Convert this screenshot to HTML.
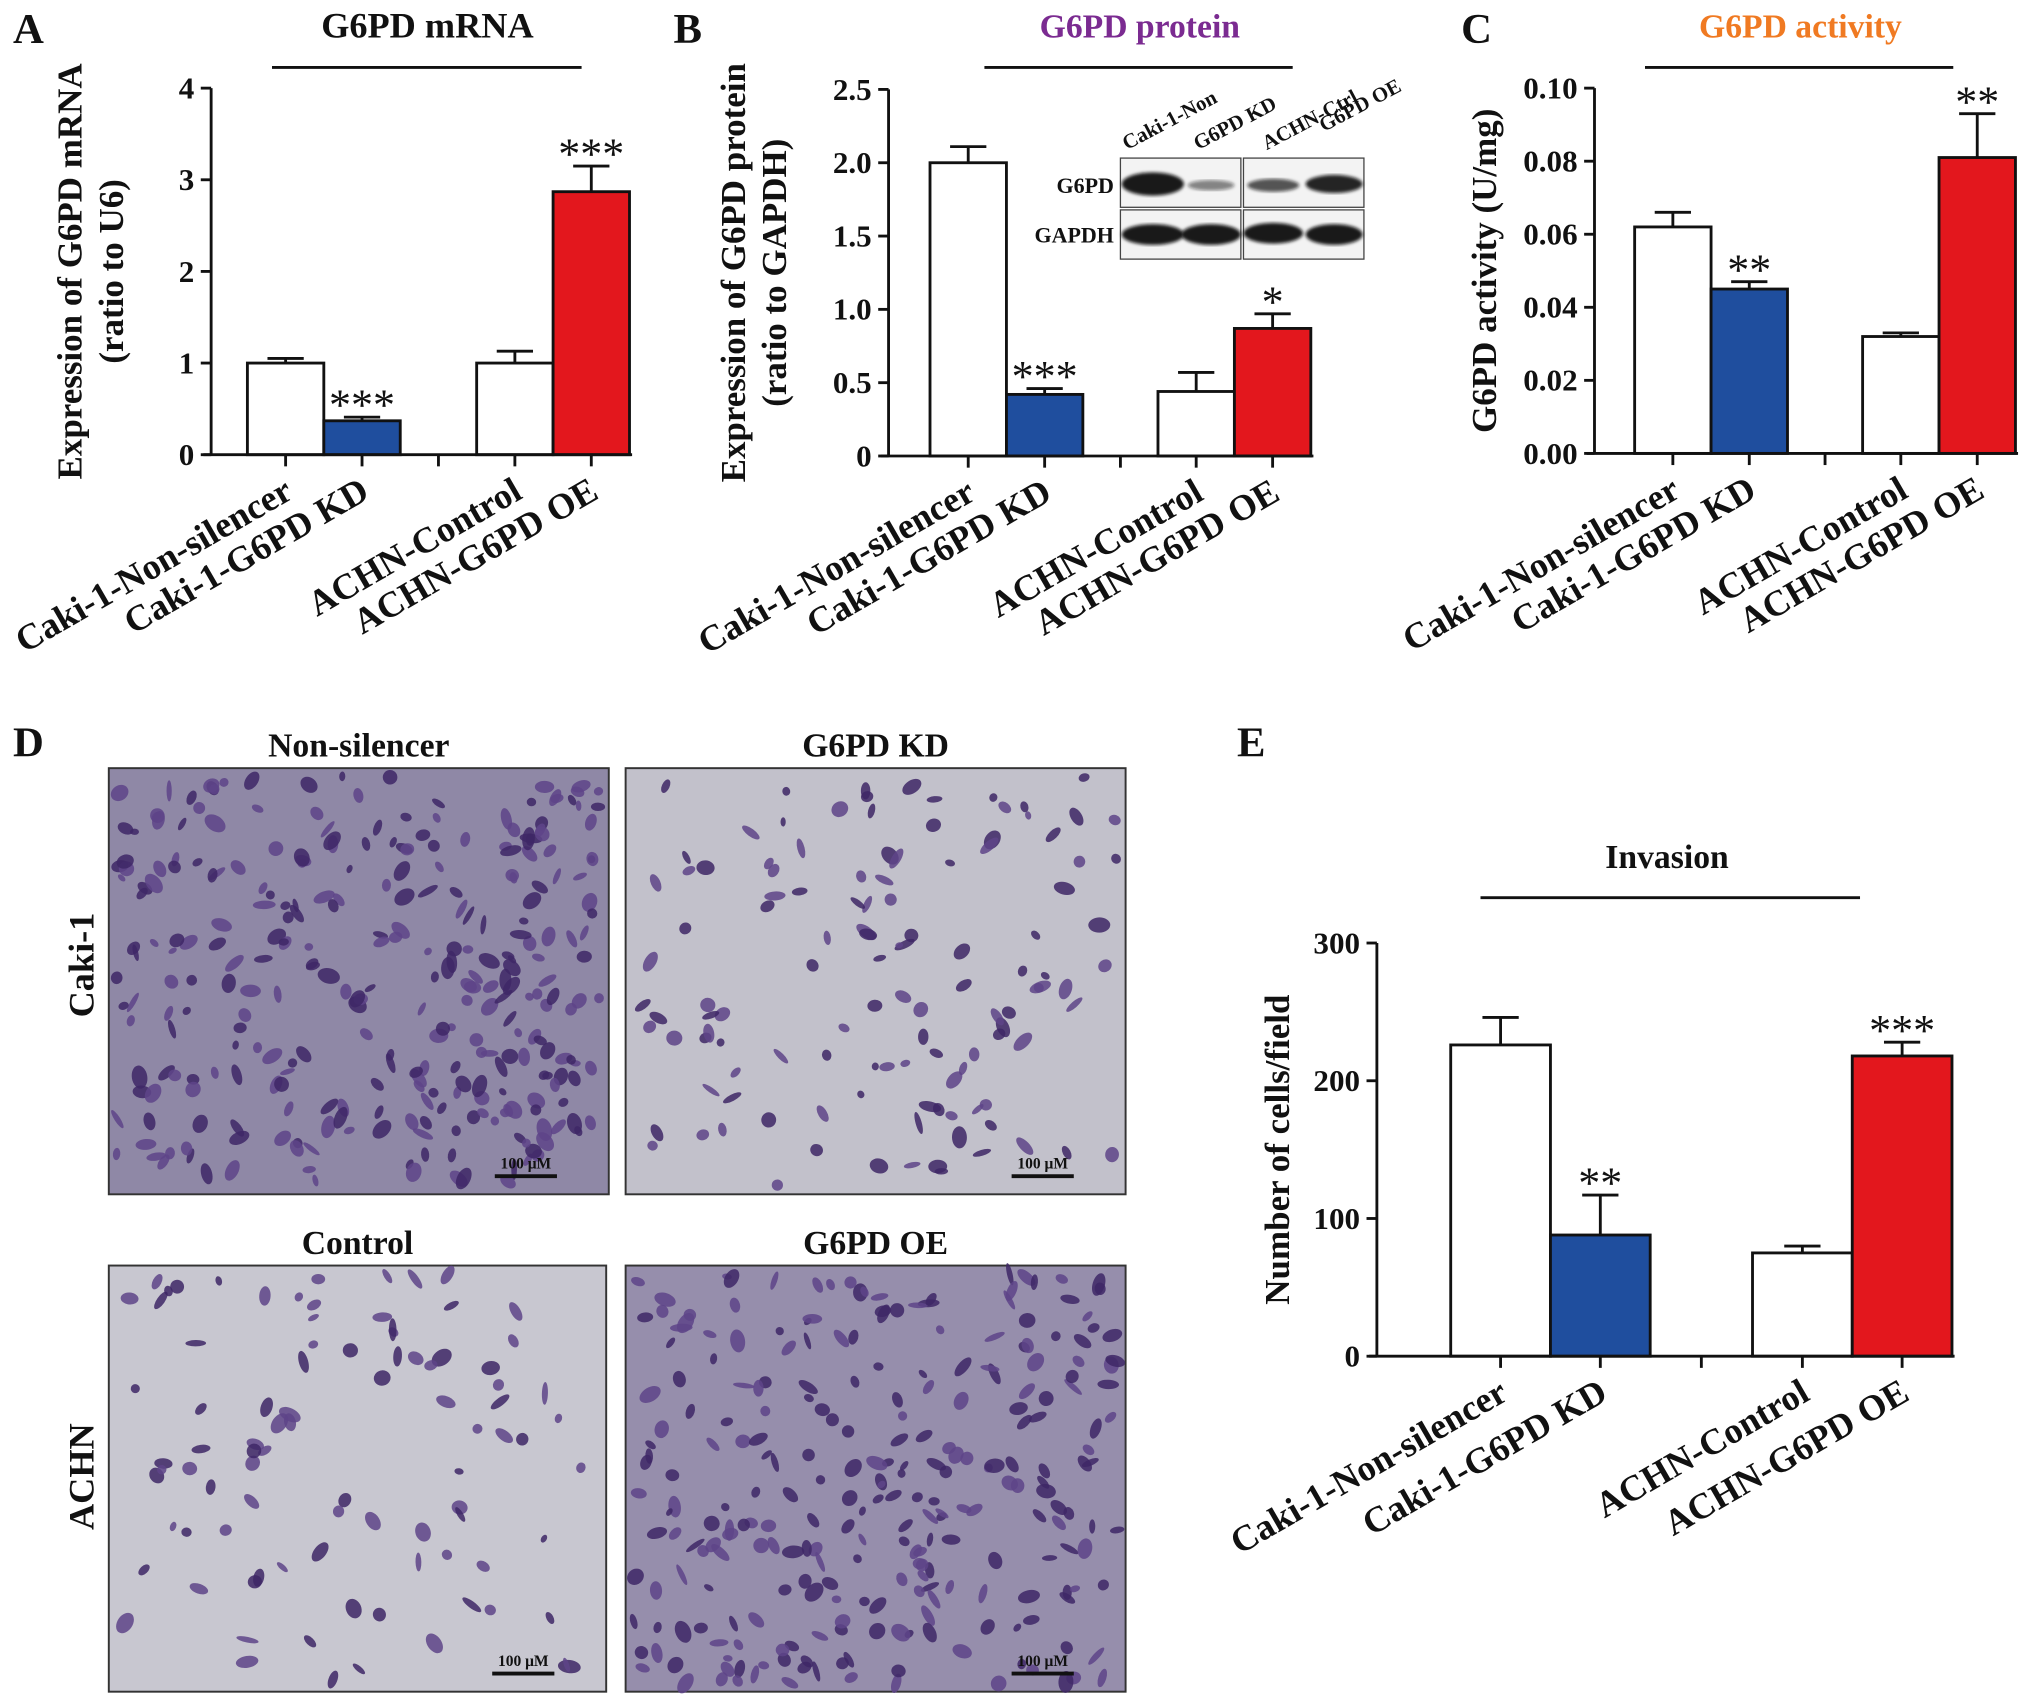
<!DOCTYPE html>
<html><head><meta charset="utf-8"><style>
html,body{margin:0;padding:0;background:#fff}
svg{display:block}
text{font-family:"Liberation Serif",serif;font-weight:bold;fill:#111}
</style></head><body>
<svg id="fig" width="2031" height="1706" viewBox="0 0 1568 1317" xmlns="http://www.w3.org/2000/svg">
<defs>
<filter id="blur1"><feGaussianBlur stdDeviation="1.2"/></filter>
</defs>
<g id="root"></g>
</svg>
<script>
const catsA=["Caki-1-Non-silencer","Caki-1-G6PD KD","ACHN-Control","ACHN-G6PD OE"];
const valsA=[1.0,0.37,1.0,2.87];
const errA=[0.05,0.04,0.13,0.28];
const starsA=["","***","","***"];
const ticksA=[0,1,2,3,4];
const tickLabA=["0","1","2","3","4"];

const valsB=[2.0,0.42,0.44,0.87];
const errB=[0.11,0.04,0.13,0.1];
const starsB=["","***","","*"];
const ticksB=[0,0.5,1.0,1.5,2.0,2.5];
const tickLabB=["0","0.5","1.0","1.5","2.0","2.5"];

const valsC=[0.062,0.045,0.032,0.081];
const errC=[0.004,0.002,0.001,0.012];
const starsC=["","**","","**"];
const ticksC=[0,0.02,0.04,0.06,0.08,0.10];
const tickLabC=["0.00","0.02","0.04","0.06","0.08","0.10"];

const valsE=[226,88,75,218];
const errE=[20,29,5,10];
const starsE=["","**","","***"];
const ticksE=[0,100,200,300];
const tickLabE=["0","100","200","300"];

const colors=["#ffffff","#1f4e9e","#ffffff","#e3171d"];
const NS="http://www.w3.org/2000/svg";
const root=document.getElementById('root');
function mk(tag,attrs,parent){const e=document.createElementNS(NS,tag);for(const k in attrs)e.setAttribute(k,attrs[k]);(parent||root).appendChild(e);return e;}

function chart(o){
  const g=mk('g',{});
  
  
  const y=v=>o.y0-(v-o.min)/(o.max-o.min)*(o.y0-o.yTop);
  const t=mk('text',{x:o.titleX,y:o.titleY,'text-anchor':'middle','font-size':o.titleSize||28,style:'fill:'+(o.titleColor||'#111')},g);
  t.textContent=o.title;
  
  
  const tl=mk('line',{x1:o.lineX1,x2:o.lineX2,y1:o.titleY+23,y2:o.titleY+23,stroke:'#111','stroke-width':2.2},g);
  
  
  const pl=mk('text',{x:o.letterX,y:o.letterY,'font-size':33},g);
  pl.textContent=o.letter;
  
  
  const yl=mk('text',{transform:`translate(${o.ylabX},${(o.yTop+o.y0)/2}) rotate(-90)`,'text-anchor':'middle','font-size':27},g);
  
  
  o.ylab.forEach((s,i)=>{const ts=mk('tspan',{x:0,dy:i==0?(o.ylab.length>1?-15:0):32},yl);ts.textContent=s;});
  const bw=o.bw;
  o.vals.forEach((v,i)=>{
    const x=o.barX[i];
    const e=mk('line',{x1:x+bw/2,x2:x+bw/2,y1:y(v),y2:y(v+o.err[i]),stroke:'#111','stroke-width':2.2},g);
    
    
    const c=mk('line',{x1:x+bw/2-14,x2:x+bw/2+14,y1:y(v+o.err[i]),y2:y(v+o.err[i]),stroke:'#111','stroke-width':2.2},g);
    
    
    const r=mk('rect',{x:x,y:y(v),width:bw,height:o.y0-y(v),fill:colors[i],stroke:'#111','stroke-width':2.2},g);
    
    
    if(o.stars[i]){const s=mk('text',{x:x+bw/2,y:y(v+o.err[i])+2,'text-anchor':'middle','font-size':34,style:'font-weight:normal'},g);s.textContent=o.stars[i];
      
      }
    const tk=mk('line',{x1:x+bw/2,x2:x+bw/2,y1:o.y0,y2:o.y0+9,stroke:'#111','stroke-width':2.2},g);
    
    
    const lb=mk('text',{transform:`translate(${x+bw/2+7},${o.y0+33}) rotate(-30)`,'text-anchor':'end','font-size':o.xfs||28},g);
    lb.textContent=catsA[i];
    
    
  });
  const mid=(o.barX[1]+o.bw+o.barX[2])/2;
  const mt=mk('line',{x1:mid,x2:mid,y1:o.y0,y2:o.y0+9,stroke:'#111','stroke-width':2.2},g);
  
  
  const ya=mk('line',{x1:o.ax,x2:o.ax,y1:o.yTop,y2:o.y0,stroke:'#111','stroke-width':2.2},g);
  
  
  const xa=mk('line',{x1:o.ax-6,x2:o.barX[3]+bw+2,y1:o.y0,y2:o.y0,stroke:'#111','stroke-width':2.2},g);
  
  
  o.ticks.forEach((tv,i)=>{
    const l=mk('line',{x1:o.ax-8,x2:o.ax,y1:y(tv),y2:y(tv),stroke:'#111','stroke-width':2.2},g);
    
    
    const tx=mk('text',{x:o.ax-13,y:y(tv)+8,'text-anchor':'end','font-size':24},g);
    tx.textContent=o.tickLab[i];
    
    
  });
}

chart({name:'panel-a-chart',letter:'A',letterX:10,letterY:33,title:'G6PD mRNA',titleX:330,titleY:29,lineX1:210,lineX2:449,
  ax:163,yTop:68,y0:351,min:0,max:4,bw:59,barX:[191,250,368,427],vals:valsA,err:errA,stars:starsA,ticks:ticksA,tickLab:tickLabA,
  ylab:['Expression of G6PD mRNA','(ratio to U6)'],ylabX:78});
chart({name:'panel-b-chart',letter:'B',letterX:520,letterY:33,title:'G6PD  protein',titleX:880,titleY:29,titleColor:'#7b2b91',titleSize:26,lineX1:760,lineX2:998,
  ax:686,yTop:69,y0:352,min:0,max:2.5,bw:59,barX:[718,777,894,953],vals:valsB,err:errB,stars:starsB,ticks:ticksB,tickLab:tickLabB,
  ylab:['Expression of G6PD protein','(ratio to GAPDH)'],ylabX:590});
chart({name:'panel-c-chart',letter:'C',letterX:1128,letterY:33,title:'G6PD activity',titleX:1390,titleY:29,titleColor:'#f07a22',titleSize:26,lineX1:1270,lineX2:1508,
  ax:1231,yTop:68,y0:350,min:0,max:0.10,bw:59,barX:[1262,1321,1438,1497],vals:valsC,err:errC,stars:starsC,ticks:ticksC,tickLab:tickLabC,
  ylab:['G6PD activity (U/mg)'],ylabX:1155});
chart({name:'panel-e-chart',letter:'E',letterX:955,letterY:584,title:'Invasion',titleX:1287,titleY:670,titleSize:26,lineX1:1143,lineX2:1436,
  ax:1063,yTop:728,y0:1047,min:0,max:300,bw:77,barX:[1120,1197,1353,1430],vals:valsE,err:errE,stars:starsE,ticks:ticksE,tickLab:tickLabE,
  ylab:['Number of cells/field'],ylabX:995});

(function(){
  const g=mk('g',{});
  
  
  const lanes=["Caki-1-Non","G6PD KD","ACHN-Ctrl","G6PD OE"];
  const lx=[870,925,978,1022];
  lanes.forEach((s,i)=>{const t=mk('text',{transform:`translate(${lx[i]},${i==3?102:116}) rotate(-28)`,'font-size':16},g);t.textContent=s;
    });
  [[865,958],[960,1053]].forEach(b=>{
    [[122,160],[162,200]].forEach(r=>{
      mk('rect',{x:b[0],y:r[0],width:b[1]-b[0],height:r[1]-r[0],fill:'#f3f3f3',stroke:'#444','stroke-width':1},g);
    });
  });
  const bands=[[890,142,24,9,0.95],[935,143,18,4,0.5],[983,143,20,5,0.7],[1030,142,22,7,0.9],
               [890,181,24,8,0.95],[935,181,23,8,0.95],[983,180,23,8,0.95],[1030,181,22,8,0.95]];
  bands.forEach(b=>{const e=mk('ellipse',{cx:b[0],cy:b[1],rx:b[2],ry:b[3],fill:'#111','fill-opacity':b[4],filter:'url(#blur1)'},g);
    });
  const a=mk('text',{x:860,y:149,'text-anchor':'end','font-size':17},g);a.textContent='G6PD';
  
  const b=mk('text',{x:860,y:187,'text-anchor':'end','font-size':17},g);b.textContent='GAPDH';
  
})();

(function(){
  const g=mk('g',{});
  
  
  const L=mk('text',{x:10,y:584,'font-size':33},g);L.textContent='D';
  
  const imgs=[[84,593,386,329,'Non-silencer',300,'#8f88a6'],[483,593,386,329,'G6PD KD',120,'#c2c1cb'],
              [84,977,384,329,'Control',90,'#c8c7d0'],[483,977,386,329,'G6PD OE',260,'#968eac']];
  let seed=7;function rnd(){seed=(seed*16807)%2147483647;return seed/2147483647;}
  imgs.forEach(m=>{
    const [x,y,w,h,title,n,bg]=m;
    const t=mk('text',{x:x+w/2,y:y-9,'text-anchor':'middle','font-size':26},g);t.textContent=title;
    
    const r=mk('rect',{x:x,y:y,width:w,height:h,fill:bg,stroke:'#333','stroke-width':1.5},g);
    
    for(let i=0;i<n;i++){
      const cx=x+6+rnd()*(w-12),cy=y+6+rnd()*(h-12);
      mk('ellipse',{cx:cx,cy:cy,rx:3+rnd()*6,ry:2+rnd()*4,fill:rnd()<0.5?'#3e2766':'#5e4488','fill-opacity':0.85,transform:`rotate(${rnd()*180},${cx},${cy})`},g);
    }
    const sl=mk('line',{x1:x+w-88,x2:x+w-40,y1:y+h-14,y2:y+h-14,stroke:'#111','stroke-width':3},g);
    
    const st=mk('text',{x:x+w-64,y:y+h-20,'text-anchor':'middle','font-size':12},g);st.textContent='100 μM';
    
  });
  const a=mk('text',{transform:'translate(72,745) rotate(-90)','text-anchor':'middle','font-size':28},g);a.textContent='Caki-1';
  
  const b=mk('text',{transform:'translate(72,1140) rotate(-90)','text-anchor':'middle','font-size':28},g);b.textContent='ACHN';
  
})();
</script>
</body></html>
